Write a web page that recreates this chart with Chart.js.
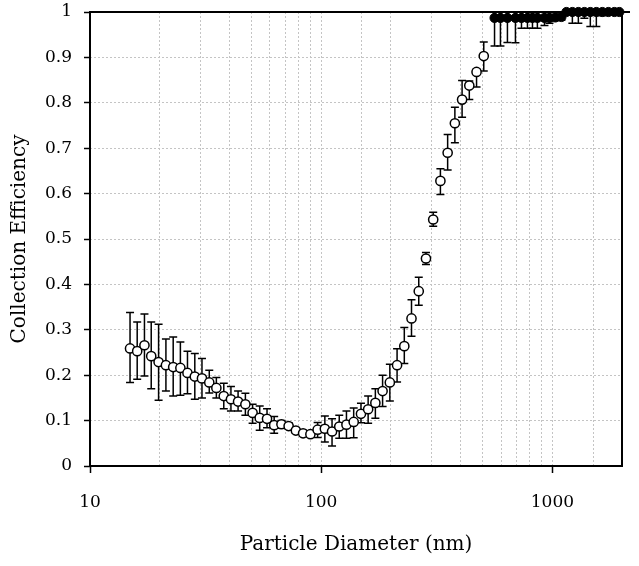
<!DOCTYPE html>
<html>
<head>
<meta charset="utf-8">
<script src="https://cdn.jsdelivr.net/npm/chart.js@4/dist/chart.umd.min.js"></script>
<style>
  html, body { margin: 0; padding: 0; background: #fff; }
</style>
</head>
<body>
<canvas id="chart" width="639" height="566"></canvas>
<script>
// SMPS channels (open circles)
const openDiameter = [14.9, 16.0, 17.2, 18.4, 19.8, 21.3, 22.9, 24.6, 26.4, 28.4,
  30.5, 32.8, 35.2, 37.9, 40.7, 43.7, 47.0, 50.5, 54.2, 58.3,
  62.6, 67.3, 72.3, 77.7, 83.5, 89.8, 96.5, 103.7, 111.4, 119.7,
  128.6, 138.2, 148.6, 159.6, 171.5, 184.3, 198.1, 212.9, 228.8, 245.8,
  264.2, 283.9, 305.1, 327.8, 352.3, 378.6, 406.8, 437.1, 469.8, 504.8];
const openMean = [0.259, 0.253, 0.266, 0.242, 0.229, 0.222, 0.218, 0.216, 0.205, 0.197,
  0.193, 0.184, 0.172, 0.154, 0.147, 0.142, 0.136, 0.117, 0.106, 0.104,
  0.090, 0.092, 0.088, 0.078, 0.072, 0.070, 0.080, 0.082, 0.076, 0.087,
  0.091, 0.097, 0.115, 0.125, 0.139, 0.165, 0.184, 0.222, 0.264, 0.325,
  0.385, 0.457, 0.543, 0.628, 0.690, 0.755, 0.807, 0.838, 0.868, 0.903];
const openLow = [0.184, 0.191, 0.198, 0.170, 0.145, 0.165, 0.154, 0.156, 0.159, 0.147,
  0.150, 0.161, 0.150, 0.126, 0.121, 0.121, 0.112, 0.094, 0.079, 0.084,
  0.072, 0.083, 0.081, 0.072, 0.066, 0.064, 0.063, 0.053, 0.044, 0.061,
  0.061, 0.062, 0.095, 0.094, 0.105, 0.131, 0.143, 0.185, 0.226, 0.286,
  0.354, 0.444, 0.528, 0.598, 0.652, 0.712, 0.768, 0.807, 0.835, 0.870];
const openHigh = [0.338, 0.317, 0.335, 0.317, 0.312, 0.280, 0.284, 0.273, 0.253, 0.248,
  0.237, 0.211, 0.195, 0.182, 0.175, 0.165, 0.160, 0.136, 0.132, 0.126,
  0.109, 0.100, 0.095, 0.084, 0.078, 0.076, 0.096, 0.110, 0.104, 0.112,
  0.121, 0.128, 0.138, 0.154, 0.170, 0.200, 0.224, 0.258, 0.305, 0.366,
  0.416, 0.470, 0.559, 0.655, 0.730, 0.790, 0.849, 0.848, 0.874, 0.934];

// larger sizes (filled circles)
const filledDiameter = [562, 596, 639, 692, 735, 780, 820, 861, 924, 971, 1030,
  1094, 1150, 1220, 1295, 1375, 1459, 1549, 1644, 1746, 1853, 1947];
const filledMean = [0.987, 0.987, 0.987, 0.987, 0.987, 0.987, 0.987, 0.987, 0.987, 0.987, 0.988,
  0.989, 1.0, 1.0, 1.0, 1.0, 1.0, 1.0, 1.0, 1.0, 1.0, 1.0];
const filledLow = [0.925, 0.925, 0.933, 0.932, 0.964, 0.964, 0.964, 0.964, 0.970, 0.975, 0.981,
  0.982, 0.996, 0.975, 0.975, 0.986, 0.968, 0.968, 0.992, 0.996, 1.0, 1.0];
const filledHigh = [1.0, 1.0, 1.0, 1.0, 1.0, 1.0, 1.0, 1.0, 1.0, 1.0, 1.0,
  1.0, 1.0, 1.0, 1.0, 1.0, 1.0, 1.0, 1.0, 1.0, 1.0, 1.0];

const xTickLabels = [10, 100, 1000];

const fontFamily = "'DejaVu Serif', 'Liberation Serif', serif";
const gridColor = "#c4c4c4";

function toPoints(xs, ys, lo, hi) {
  return xs.map((x, i) => ({ x: x, y: ys[i], lo: lo[i], hi: hi[i] }));
}

function isMajor(v) {
  return xTickLabels.some(t => Math.abs(t - v) < t * 1e-6);
}

// vertical error bars, drawn under the markers
const errorBars = {
  id: "errorBars",
  beforeDatasetsDraw(chart) {
    const ctx = chart.ctx;
    const xs = chart.scales.x, ys = chart.scales.y, a = chart.chartArea;
    ctx.save();
    ctx.beginPath();
    ctx.rect(a.left, a.top - 1, a.right - a.left, a.bottom - a.top + 1);
    ctx.clip();
    ctx.strokeStyle = "#000";
    ctx.lineWidth = 1.5;
    chart.data.datasets.forEach(ds => {
      ds.data.forEach(p => {
        const px = xs.getPixelForValue(p.x);
        const top = ys.getPixelForValue(p.hi);
        const bot = ys.getPixelForValue(p.lo);
        ctx.beginPath();
        ctx.moveTo(px, top); ctx.lineTo(px, bot);
        ctx.moveTo(px - 4, top); ctx.lineTo(px + 4, top);
        ctx.moveTo(px - 4, bot); ctx.lineTo(px + 4, bot);
        ctx.stroke();
      });
    });
    ctx.restore();
    // plot frame
    ctx.save();
    ctx.strokeStyle = "#000";
    ctx.lineWidth = 2;
    ctx.strokeRect(a.left, a.top, a.right - a.left, a.bottom - a.top);
    ctx.beginPath();
    ctx.moveTo(a.right, a.top);
    ctx.lineTo(a.right + 8, a.top);
    ctx.stroke();
    ctx.restore();
  }
};

new Chart(document.getElementById("chart"), {
  type: "scatter",
  data: {
    datasets: [
      {
        label: "SMPS",
        data: toPoints(openDiameter, openMean, openLow, openHigh),
        pointRadius: 4.6,
        pointBorderWidth: 1.5,
        pointBackgroundColor: "#fff",
        pointBorderColor: "#000",
        clip: false
      },
      {
        label: "OPC",
        data: toPoints(filledDiameter, filledMean, filledLow, filledHigh),
        pointRadius: 4.6,
        pointBorderWidth: 1,
        pointBackgroundColor: "#000",
        pointBorderColor: "#000",
        clip: false
      }
    ]
  },
  options: {
    responsive: false,
    animation: false,
    events: [],
    layout: { padding: { top: 12, right: 17, left: 0, bottom: 0 } },
    plugins: {
      legend: { display: false },
      tooltip: { enabled: false }
    },
    scales: {
      x: {
        type: "logarithmic",
        min: 10,
        max: 2000,
        afterFit(s) {
          s.height = 100;
          s.paddingLeft = 0;
          s.paddingRight = 0;
        },
        ticks: {
          autoSkip: false,
          maxRotation: 0,
          padding: 19,
          color: "#000",
          font: { family: fontFamily, size: 17 },
          callback: v => (isMajor(v) ? String(Math.round(v)) : "")
        },
        grid: {
          color: c => (c.tick && (c.tick.value <= 10 || c.tick.value >= 2000) ? "rgba(0,0,0,0)" : gridColor),
          lineWidth: 1,
          tickLength: 7,
          tickWidth: 1.5,
          tickColor: c => (c.tick && isMajor(c.tick.value) ? "#000" : "rgba(0,0,0,0)")
        },
        border: { display: false, dash: [2, 2] },
        title: {
          display: true,
          text: "Particle Diameter (nm)",
          color: "#000",
          font: { family: fontFamily, size: 20 },
          padding: { top: 0, bottom: 9 }
        }
      },
      y: {
        min: 0,
        max: 1,
        afterFit(s) {
          s.width = 90;
          s.paddingTop = 0;
          s.paddingBottom = 0;
        },
        ticks: {
          stepSize: 0.1,
          padding: 12,
          color: "#000",
          font: { family: fontFamily, size: 17 },
          callback: v => String(Math.round(v * 10) / 10)
        },
        grid: {
          color: c => (c.tick && (c.tick.value <= 0 || c.tick.value >= 1) ? "rgba(0,0,0,0)" : gridColor),
          lineWidth: 1,
          tickLength: 6,
          tickWidth: 1.5,
          tickColor: "#000"
        },
        border: { display: false, dash: [2, 2] },
        title: {
          display: true,
          text: "Collection Efficiency",
          color: "#000",
          font: { family: fontFamily, size: 20 },
          padding: { top: 8, bottom: 0 }
        }
      }
    }
  },
  plugins: [errorBars]
});
</script>
</body>
</html>
